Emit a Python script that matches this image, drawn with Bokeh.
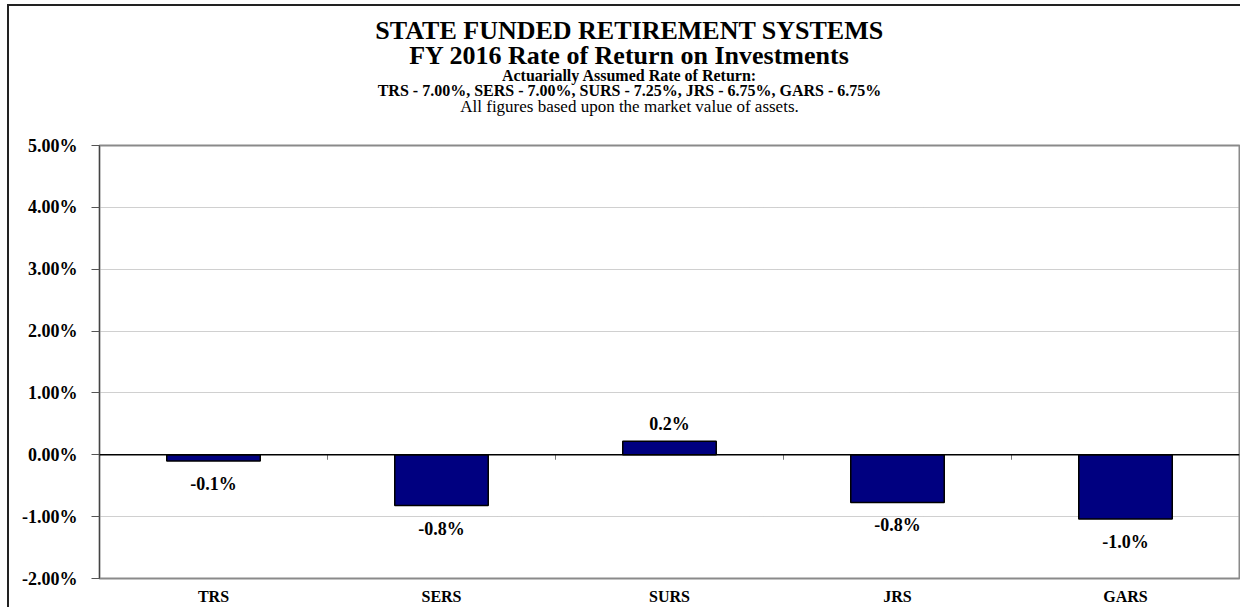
from bokeh.plotting import figure
from bokeh.layouts import column
from bokeh.models import (FactorRange, Range1d, FixedTicker, PrintfTickFormatter,
                          Span, ColumnDataSource)
from bokeh.core.properties import value
from bokeh.embed import file_html
from bokeh.resources import INLINE

# ---- data ----
systems = ["TRS", "SERS", "SURS", "JRS", "GARS"]
returns = [-0.10, -0.82, 0.22, -0.77, -1.04]          # percent
y_ticks = [-2, -1, 0, 1, 2, 3, 4, 5]
title_lines = [
    "STATE FUNDED RETIREMENT SYSTEMS",
    "FY 2016 Rate of Return on Investments",
    "Actuarially Assumed Rate of Return:",
    "TRS - 7.00%, SERS - 7.00%, SURS - 7.25%, JRS - 6.75%, GARS - 6.75%",
    "All figures based upon the market value of assets.",
]

FONT = "Liberation Serif"

# ---- layout (pixels) ----
W = 1240
HEAD_H = 120            # height of the heading strip
MAIN_H = 487
FRAME_L, FRAME_R, FRAME_T, FRAME_B = 99, 1239, 145, 580   # page coordinates
BORDER_X, BORDER_Y = 8, 5                                 # outer chart border
BORDER_COLOR = "#222222"
TITLE_CX = 629
TITLE_ROWS = [30, 55, 75, 90, 106]
TITLE_SIZES = ["26px", "26px", "16px", "16px", "17px"]
TITLE_STYLES = ["bold", "bold", "bold", "bold", "normal"]

# ---------------- heading strip ----------------
head = figure(width=W, height=HEAD_H, output_backend="svg", toolbar_location=None,
              x_range=Range1d(FRAME_L, FRAME_R), y_range=Range1d(HEAD_H, 0),
              min_border_left=FRAME_L, min_border_right=W - FRAME_R,
              min_border_top=0, min_border_bottom=0,
              x_axis_location=None, y_axis_location=None,
              background_fill_alpha=0, border_fill_alpha=0)
head.outline_line_color = None
head.grid.visible = False
# outer chart border: top edge and upper part of the left edge
head.styles = {
    "background-color": "white",
    "background-image": f"linear-gradient({BORDER_COLOR}, {BORDER_COLOR}), "
                        f"linear-gradient({BORDER_COLOR}, {BORDER_COLOR})",
    "background-size": "100% 2px, 2px 100%",
    "background-position": f"{BORDER_X}px {BORDER_Y - 1}px, {BORDER_X - 1}px {BORDER_Y - 1}px",
    "background-repeat": "no-repeat",
}

for style in ("bold", "normal"):
    idx = [i for i, s in enumerate(TITLE_STYLES) if s == style]
    hsrc = ColumnDataSource(dict(
        x=[TITLE_CX] * len(idx),
        y=[TITLE_ROWS[i] for i in idx],
        text=[title_lines[i] for i in idx],
        size=[TITLE_SIZES[i] for i in idx],
    ))
    head.text(x="x", y="y", text="text", text_font_size="size", source=hsrc,
              text_align="center", text_baseline="middle",
              text_font=value(FONT), text_font_style=style, text_color="black")

# ---------------- main chart ----------------
bar_labels = [f"{v:.1f}%" for v in returns]
label_offsets = [23 if v < 0 else -17 for v in returns]
src = ColumnDataSource(dict(system=systems, ret=returns, label=bar_labels, yoff=label_offsets))

Y_MIN, Y_MAX = min(y_ticks), max(y_ticks)
PX_PER_UNIT = (FRAME_B - FRAME_T) / (Y_MAX - Y_MIN)

p = figure(width=W, height=MAIN_H, output_backend="svg", toolbar_location=None,
           x_range=FactorRange(*systems), y_range=Range1d(Y_MIN, Y_MAX),
           min_border_left=FRAME_L, min_border_right=W - FRAME_R,
           min_border_top=FRAME_T - HEAD_H, min_border_bottom=HEAD_H + MAIN_H - FRAME_B,
           background_fill_color="white", border_fill_alpha=0)
# left edge of the outer chart border, continued down the chart
p.styles = {
    "background-color": "white",
    "background-image": f"linear-gradient({BORDER_COLOR}, {BORDER_COLOR})",
    "background-size": "2px 100%",
    "background-position": f"{BORDER_X - 1}px 0px",
    "background-repeat": "no-repeat",
}

p.outline_line_color = "#8a8a8a"
p.outline_line_width = 2

# grid
p.xgrid.grid_line_color = None
p.ygrid.ticker = FixedTicker(ticks=y_ticks)
p.ygrid.grid_line_color = "#a0a0a0"
p.ygrid.grid_line_dash = "1 1"
p.ygrid.grid_line_width = 1

# y axis
p.yaxis.ticker = FixedTicker(ticks=y_ticks)
p.yaxis.formatter = PrintfTickFormatter(format="%.2f%%")
p.yaxis.minor_tick_line_color = None
p.yaxis.major_tick_in = 0
p.yaxis.major_tick_out = 8
p.yaxis.major_tick_line_color = "#555555"
p.yaxis.axis_line_color = "#444444"
p.yaxis.major_label_standoff = 14
p.yaxis.major_label_text_font = FONT
p.yaxis.major_label_text_font_style = "bold"
p.yaxis.major_label_text_font_size = "18px"
p.yaxis.major_label_text_color = "black"

# x axis
p.xaxis.major_tick_line_color = None
p.xaxis.major_tick_out = 0
p.xaxis.major_tick_in = 0
p.xaxis.axis_line_color = "#8a8a8a"
p.xaxis.major_label_standoff = 9
p.xaxis.major_label_text_font = FONT
p.xaxis.major_label_text_font_style = "bold"
p.xaxis.major_label_text_font_size = "16px"
p.xaxis.major_label_text_color = "black"

# bars
p.vbar(x="system", top="ret", bottom=0, width=0.41, source=src,
       fill_color="#000080", line_color="black", line_width=1.5)

# zero line
p.add_layout(Span(location=0, dimension="width", line_color="black", line_width=1.5))

# category boundary ticks on the zero line
bounds = list(range(1, len(systems)))
tick_len = 5 / PX_PER_UNIT
p.segment(x0=bounds, y0=[0] * len(bounds), x1=bounds, y1=[-tick_len] * len(bounds),
          line_color="#777777", line_width=1)

# bar value labels
p.text(x="system", y="ret", text="label", y_offset="yoff", source=src,
       text_align="center", text_baseline="middle",
       text_font=value(FONT), text_font_style="bold", text_font_size="18px",
       text_color="black")

layout = column(head, p, spacing=0)

open("out.html", "w").write(file_html(layout, INLINE))
